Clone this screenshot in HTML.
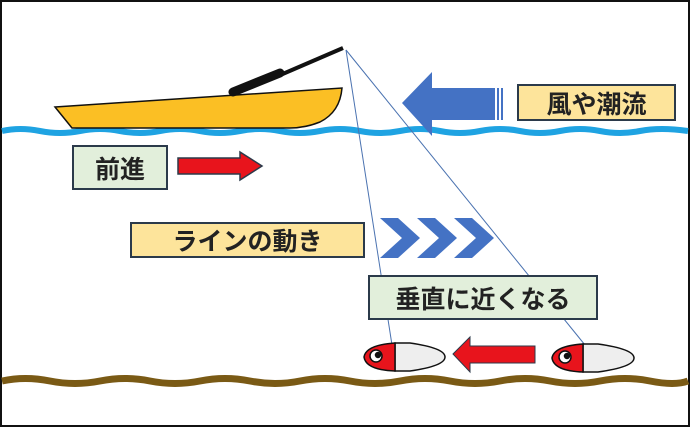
<!DOCTYPE html><html><head><meta charset="utf-8"><style>
body{margin:0;width:690px;height:427px;overflow:hidden;background:#fff}
.b{position:absolute;border:2px solid #2b3a4a;box-sizing:border-box;display:flex;align-items:center;justify-content:center;font-family:"Liberation Sans","Noto Sans CJK JP",sans-serif;font-weight:bold;color:#222}
</style></head><body>
<div style="position:absolute;left:0;top:0;width:690px;height:427px;border:2px solid #111;box-sizing:border-box"></div>
<svg width="690" height="427" style="position:absolute;left:0;top:0">
<path d="M2 131 Q20 127 40 131 T80 131 T120 131 T160 131 T200 131 T240 131 T280 131 T320 131 T360 131 T400 131 T440 131 T480 131 T520 131 T560 131 T600 131 T640 131 T688 131" stroke="#1fa3e2" stroke-width="6" fill="none"/>
<path d="M2 381 Q25 376 50 381 T100 381 T150 381 T200 381 T250 381 T300 381 T350 381 T400 381 T450 381 T500 381 T550 381 T600 381 T650 381 T688 381" stroke="#7a5a15" stroke-width="7" fill="none"/>
<path d="M55 107 L342 88 Q340 112 320 122 Q305 128 290 128 L72 128 Z" fill="#fbbf24" stroke="#111" stroke-width="1.5"/>
<line x1="278" y1="76" x2="343" y2="48" stroke="#111" stroke-width="4"/>
<line x1="233" y1="92" x2="280" y2="73" stroke="#111" stroke-width="9" stroke-linecap="round"/>
<line x1="346" y1="50" x2="392" y2="345" stroke="#4a72b0" stroke-width="1"/>
<line x1="346" y1="50" x2="585" y2="345" stroke="#4a72b0" stroke-width="1"/>
<polygon points="402,103 432,72 432,88 495,88 495,120 432,120 432,136" fill="#4472c4"/>
<rect x="497" y="88" width="2" height="32" fill="#4472c4"/><rect x="501" y="88" width="2" height="32" fill="#4472c4"/>
<polygon points="178,158 240,158 240,152 262,166 240,180 240,174 178,174" fill="#e8141c" stroke="#2b3a4a" stroke-width="1.5"/>
<g fill="#4472c4"><polygon points="380,218 398,218 420,238 398,258 380,258 402,238"/><polygon points="417,218 435,218 457,238 435,258 417,258 439,238"/><polygon points="454,218 472,218 494,238 472,258 454,258 476,238"/></g>
<polygon points="453,354 470,337 470,346 535,346 535,363 470,363 470,372" fill="#e8141c" stroke="#2b3a4a" stroke-width="1"/>
<g stroke="#111" stroke-width="1.5">
<path d="M395 343 L410 343 Q445 348 445 357 Q445 366 410 371 L395 371 Z" fill="#eee"/>
<path d="M395 343 Q366 345 364 357 Q366 370 395 371 Z" fill="#e8141c"/>
<circle cx="376" cy="356" r="6" fill="#fff"/><circle cx="378" cy="355" r="2.5" fill="#111"/>
<path d="M583 344 L598 344 Q634 349 634 358 Q634 367 598 372 L583 372 Z" fill="#eee"/>
<path d="M583 344 Q554 346 552 358 Q554 371 583 372 Z" fill="#e8141c"/>
<circle cx="565" cy="357" r="6" fill="#fff"/><circle cx="567" cy="356" r="2.5" fill="#111"/>
</g></svg>
<div class="b" style="left:517px;top:84px;width:159px;height:37px;background:#fde49b;font-size:25px">風や潮流</div>
<div class="b" style="left:72px;top:145px;width:96px;height:45px;background:#e2efdb;font-size:25px">前進</div>
<div class="b" style="left:130px;top:222px;width:235px;height:36px;background:#fde49b;font-size:25px">ラインの動き</div>
<div class="b" style="left:368px;top:275px;width:230px;height:45px;background:#e2efdb;font-size:25px">垂直に近くなる</div>
</body></html>
